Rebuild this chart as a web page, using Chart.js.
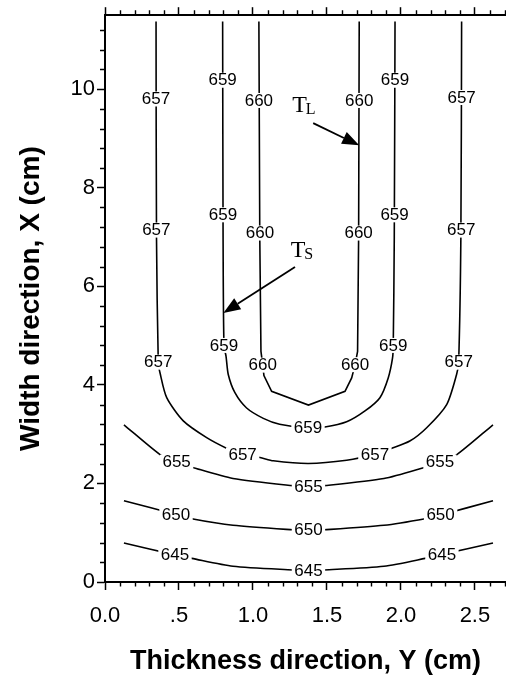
<!DOCTYPE html>
<html>
<head>
<meta charset="utf-8">
<script src="https://cdn.jsdelivr.net/npm/chart.js@4/dist/chart.umd.min.js"></script>
<style>
  html, body { margin: 0; padding: 0; background: #fff; }
  canvas { display: block; }
</style>
</head>
<body>
<canvas id="chart" width="506" height="679"></canvas>
<script>
// ---- Axis ticks -----------------------------------------------------------
const xTicks = [0, 0.5, 1.0, 1.5, 2.0, 2.5];
const xTickLabels = ['0.0', '.5', '1.0', '1.5', '2.0', '2.5'];
const yTicks = [0, 2, 4, 6, 8, 10];
const yTickLabels = ['0', '2', '4', '6', '8', '10'];
const xMinorStep = 0.1;
const yMinorStep = 0.4;

// ---- Isotherms: thickness position (cm) and width position (cm) -----------
const levels = [645, 650, 655, 657, 659, 660];

const t645 = [0.128, 0.473, 0.586, 0.865, 1.27, 1.375, 1.48, 1.885, 2.164, 2.277, 2.622];
const w645 = [0.79, 0.55, 0.48, 0.32, 0.245, 0.235, 0.245, 0.32, 0.48, 0.56, 0.79];

const t650 = [0.128, 0.48, 0.586, 0.865, 1.27, 1.375, 1.48, 1.885, 2.164, 2.268, 2.622];
const w650 = [1.65, 1.37, 1.284, 1.15, 1.06, 1.05, 1.06, 1.15, 1.284, 1.36, 1.65];

const t655 = [0.128, 0.383, 0.484, 0.597, 0.865, 1.27, 1.375, 1.48, 1.885, 2.153, 2.264, 2.367, 2.622];
const w655 = [3.19, 2.56, 2.43, 2.32, 2.10, 1.955, 1.94, 1.955, 2.10, 2.32, 2.43, 2.56, 3.19];

const t657 = [0.345, 0.348, 0.36, 0.372, 0.417, 0.529, 0.687, 0.831, 0.93, 1.047, 1.137, 1.375,
              1.633, 1.824, 1.926, 2.06, 2.174, 2.309, 2.376, 2.39, 2.405, 2.41];
const w657 = [11.37, 7.0, 4.46, 4.24, 3.74, 3.27, 2.93, 2.70, 2.58, 2.526, 2.46, 2.405,
              2.47, 2.59, 2.70, 2.86, 3.13, 3.60, 4.21, 4.46, 7.0, 11.37];

const t659 = [0.795, 0.798, 0.804, 0.818, 0.833, 0.878, 0.957, 1.07, 1.18, 1.372,
              1.486, 1.633, 1.757, 1.858, 1.914, 1.943, 1.948, 1.955, 1.96];
const w659 = [11.37, 7.0, 4.80, 4.58, 4.21, 3.84, 3.53, 3.32, 3.20, 3.125,
              3.145, 3.25, 3.47, 3.74, 4.14, 4.54, 4.80, 7.0, 11.37];

const t660 = [1.04, 1.046, 1.054, 1.066, 1.074, 1.126, 1.375, 1.622, 1.667, 1.69, 1.707, 1.714, 1.718];
const w660 = [11.37, 7.0, 4.68, 4.40, 4.19, 3.87, 3.59, 3.87, 4.14, 4.41, 4.68, 7.0, 11.37];

// ---- Where each isotherm is labelled ---------------------------------------
const lab645T = [0.473, 1.375, 2.277];
const lab645W = [0.55, 0.235, 0.56];
const lab650T = [0.48, 1.375, 2.268];
const lab650W = [1.37, 1.05, 1.36];
const lab655T = [0.484, 1.375, 2.264];
const lab655W = [2.43, 1.94, 2.43];
const lab657T = [0.345, 0.347, 0.36, 0.93, 1.824, 2.39, 2.407, 2.41];
const lab657W = [9.80, 7.14, 4.46, 2.58, 2.59, 4.46, 7.14, 9.83];
const lab659T = [0.795, 0.797, 0.804, 1.372, 1.96, 1.957, 1.948];
const lab659W = [10.18, 7.45, 4.80, 3.125, 10.18, 7.45, 4.80];
const lab660T = [1.04, 1.047, 1.066, 1.718, 1.714, 1.69];
const lab660W = [9.77, 7.08, 4.40, 9.77, 7.08, 4.41];

// ---- Liquidus / solidus callouts -------------------------------------------
const calloutMain = ['T', 'T'];
const calloutSub = ['L', 'S'];
const calloutT = [1.265, 1.255];
const calloutW = [9.536, 6.593];
const arrowTailT = [1.407, 1.284];
const arrowTailW = [9.31, 6.39];
const arrowTipT = [1.718, 0.80];
const arrowTipW = [8.86, 5.46];

// ---------------------------------------------------------------------------
const paths = [
  { t: t645, w: w645, lt: lab645T, lw: lab645W, tension: 0.25 },
  { t: t650, w: w650, lt: lab650T, lw: lab650W, tension: 0.25 },
  { t: t655, w: w655, lt: lab655T, lw: lab655W, tension: 0.25 },
  { t: t657, w: w657, lt: lab657T, lw: lab657W, tension: 0.25 },
  { t: t659, w: w659, lt: lab659T, lw: lab659W, tension: 0.25 },
  { t: t660, w: w660, lt: lab660T, lw: lab660W, tension: 0 }
];

const SANS = '"Liberation Sans", Arial, Helvetica, sans-serif';
const SERIF = '"Liberation Serif", "Times New Roman", serif';

const datasets = paths.map((p, k) => ({
  label: String(levels[k]),
  data: p.t.map((t, i) => ({ x: t, y: p.w[i] })),
  showLine: true,
  borderColor: '#000',
  borderWidth: 1.6,
  pointRadius: 0,
  tension: p.tension,
  fill: false
}));

// Minor ticks on the bottom, top and left axes
const minorTicks = {
  id: 'minorTicks',
  afterDraw(chart) {
    const { ctx, chartArea: a, scales: { x, y } } = chart;
    ctx.save();
    ctx.strokeStyle = '#000';
    ctx.lineWidth = 1.4;
    ctx.beginPath();
    const nx = Math.floor(x.max / xMinorStep + 1e-6);
    for (let i = 1; i <= nx; i++) {
      const v = i * xMinorStep;
      if (xTicks.some(m => Math.abs(m - v) < 1e-6)) continue;
      const px = Math.round(x.getPixelForValue(v)) + 0.5;
      ctx.moveTo(px, a.bottom); ctx.lineTo(px, a.bottom + 4.5);
      ctx.moveTo(px, a.top); ctx.lineTo(px, a.top - 5);
    }
    const ny = Math.floor(y.max / yMinorStep + 1e-6);
    for (let i = 1; i <= ny; i++) {
      const v = i * yMinorStep;
      if (yTicks.some(m => Math.abs(m - v) < 1e-6)) continue;
      const py = Math.round(y.getPixelForValue(v)) + 0.5;
      ctx.moveTo(a.left, py); ctx.lineTo(a.left - 5, py);
    }
    ctx.stroke();
    ctx.restore();
  }
};

// Level labels sitting in gaps of the isotherms, plus the T_L / T_S callouts
const annotations = {
  id: 'annotations',
  afterDatasetsDraw(chart) {
    const { ctx, scales: { x, y } } = chart;
    ctx.save();
    ctx.font = '17px ' + SANS;
    ctx.textAlign = 'center';
    ctx.textBaseline = 'middle';
    paths.forEach((p, k) => {
      const txt = String(levels[k]);
      const tw = ctx.measureText(txt).width;
      p.lt.forEach((t, i) => {
        const px = x.getPixelForValue(t);
        const py = y.getPixelForValue(p.lw[i]);
        ctx.fillStyle = '#fff';
        ctx.fillRect(px - tw / 2 - 2.5, py - 7.5, tw + 5, 15);
        ctx.fillStyle = '#000';
        ctx.fillText(txt, px, py + 0.5);
      });
    });

    // arrows
    ctx.strokeStyle = '#000';
    ctx.fillStyle = '#000';
    ctx.lineWidth = 1.8;
    arrowTailT.forEach((t, i) => {
      const x0 = x.getPixelForValue(t), y0 = y.getPixelForValue(arrowTailW[i]);
      const x1 = x.getPixelForValue(arrowTipT[i]), y1 = y.getPixelForValue(arrowTipW[i]);
      const len = Math.hypot(x1 - x0, y1 - y0);
      const ux = (x1 - x0) / len, uy = (y1 - y0) / len;
      const head = 17, half = 6.5;
      const bx = x1 - ux * head, by = y1 - uy * head;
      ctx.beginPath();
      ctx.moveTo(x0, y0);
      ctx.lineTo(bx, by);
      ctx.stroke();
      ctx.beginPath();
      ctx.moveTo(x1, y1);
      ctx.lineTo(bx - uy * half, by + ux * half);
      ctx.lineTo(bx + uy * half, by - ux * half);
      ctx.closePath();
      ctx.fill();
    });

    // T_L, T_S
    ctx.textAlign = 'left';
    ctx.textBaseline = 'alphabetic';
    calloutMain.forEach((m, i) => {
      const px = x.getPixelForValue(calloutT[i]);
      const py = y.getPixelForValue(calloutW[i]);
      ctx.font = '24px ' + SERIF;
      ctx.fillText(m, px, py);
      const mw = ctx.measureText(m).width;
      ctx.font = '16px ' + SERIF;
      ctx.fillText(calloutSub[i], px + mw - 1, py + 2);
    });
    ctx.restore();
  }
};

const tickFont = { family: SANS, size: 22 };
const titleFont = { family: SANS, size: 27, weight: 'bold' };

new Chart(document.getElementById('chart'), {
  type: 'scatter',
  data: { datasets },
  options: {
    responsive: false,
    animation: false,
    events: [],
    layout: { padding: 0 },
    plugins: { legend: { display: false }, tooltip: { enabled: false } },
    scales: {
      x: {
        type: 'linear',
        position: 'bottom',
        min: 0,
        max: 2.71,
        afterBuildTicks: s => { s.ticks = xTicks.map(v => ({ value: v })); },
        afterFit: s => { s.height = 97; },
        ticks: {
          callback: v => xTickLabels[xTicks.findIndex(m => Math.abs(m - v) < 1e-9)],
          font: tickFont,
          color: '#000',
          padding: 13,
          maxRotation: 0,
          autoSkip: false
        },
        grid: { drawOnChartArea: false, drawTicks: true, tickLength: 8, tickColor: '#000', tickWidth: 1.5 },
        border: { display: true, color: '#000', width: 2 },
        title: {
          display: true,
          text: 'Thickness direction, Y (cm)',
          font: titleFont,
          color: '#000',
          padding: { top: 0, bottom: 1 }
        }
      },
      xTop: {
        type: 'linear',
        position: 'top',
        min: 0,
        max: 2.71,
        afterBuildTicks: s => { s.ticks = xTicks.map(v => ({ value: v })); },
        afterFit: s => { s.height = 12; },
        ticks: { display: false },
        grid: { drawOnChartArea: false, drawTicks: true, tickLength: 8, tickColor: '#000', tickWidth: 1.5 },
        border: { display: true, color: '#000', width: 2 }
      },
      y: {
        type: 'linear',
        position: 'left',
        min: 0,
        max: 11.5,
        afterBuildTicks: s => { s.ticks = yTicks.map(v => ({ value: v })); },
        afterFit: s => { s.width = 105; },
        ticks: {
          callback: v => yTickLabels[yTicks.findIndex(m => Math.abs(m - v) < 1e-9)],
          font: tickFont,
          color: '#000',
          padding: 2,
          autoSkip: false
        },
        grid: { drawOnChartArea: false, drawTicks: true, tickLength: 8, tickColor: '#000', tickWidth: 1.5 },
        border: { display: true, color: '#000', width: 2 },
        title: {
          display: true,
          text: 'Width direction, X (cm)',
          font: { family: SANS, size: 28, weight: 'bold' },
          color: '#000',
          padding: { top: 14, bottom: 0 }
        }
      }
    }
  },
  plugins: [minorTicks, annotations]
});
</script>
</body>
</html>
